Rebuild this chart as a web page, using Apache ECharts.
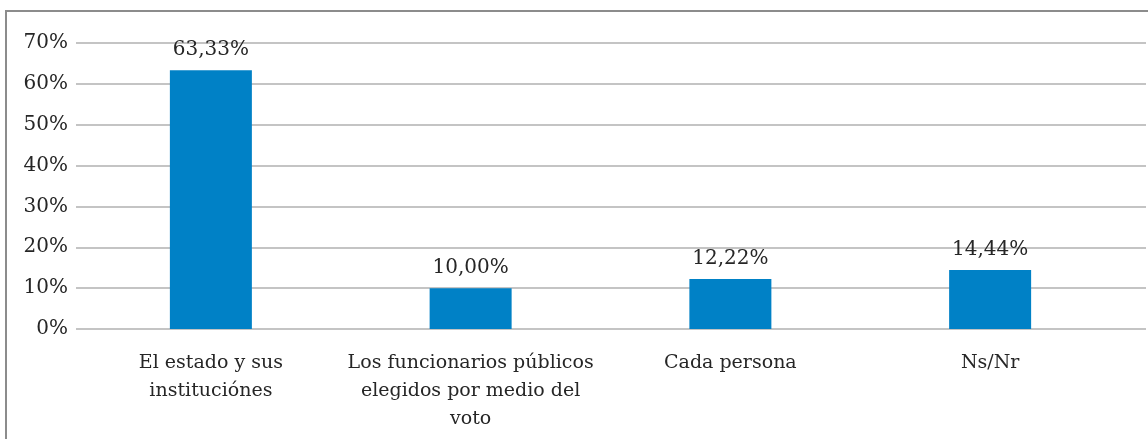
<!DOCTYPE html>
<html>
<head>
<meta charset="utf-8">
<script src="https://cdn.jsdelivr.net/npm/echarts@6/dist/echarts.min.js"></script>
<style>
  html, body { margin: 0; padding: 0; background: #fff; }
  #chart { width: 1148px; height: 439px; }
</style>
</head>
<body>
<div id="chart"></div>
<script>
var categories = [
  "El estado y sus\ninstituciónes",
  "Los funcionarios públicos\nelegidos por medio del\nvoto",
  "Cada persona",
  "Ns/Nr"
];
var values = [63.33, 10.00, 12.22, 14.44];
var yTicks = [0, 10, 20, 30, 40, 50, 60, 70];

var font = "DejaVu Serif";
var chart = echarts.init(document.getElementById("chart"));

var option = {
  animation: false,
  graphic: [
    {
      type: "rect",
      shape: { x: 6, y: 11, width: 1300, height: 600 },
      style: { fill: "none", stroke: "#8c8c8c", lineWidth: 2 }
    }
  ],
  grid: [
    // gridlines + tick labels (wider than the bar area)
    { left: 76, right: 2, top: 43, bottom: 110 },
    // bars
    { left: 81, right: 28, top: 43, bottom: 110 }
  ],
  xAxis: [
    { gridIndex: 0, type: "value", min: 0, max: 1, show: false },
    {
      gridIndex: 1,
      type: "category",
      data: categories,
      axisLine: { show: false },
      axisTick: { show: false },
      axisLabel: {
        margin: 20,
        color: "#262626",
        fontFamily: font,
        fontSize: 19,
        lineHeight: 28,
        interval: 0
      }
    }
  ],
  yAxis: [
    {
      gridIndex: 0,
      type: "value",
      min: yTicks[0],
      max: yTicks[yTicks.length - 1],
      interval: 10,
      axisLine: { show: false },
      axisTick: { show: false },
      axisLabel: {
        margin: 8,
        color: "#262626",
        fontFamily: font,
        fontSize: 20,
        formatter: function (v) { return v + "%"; }
      },
      splitLine: { lineStyle: { color: "#c4c4c4", width: 2 } }
    },
    {
      gridIndex: 1,
      type: "value",
      min: yTicks[0],
      max: yTicks[yTicks.length - 1],
      show: false,
      splitLine: { show: false }
    }
  ],
  series: [
    {
      type: "bar",
      xAxisIndex: 1,
      yAxisIndex: 1,
      data: values,
      barWidth: 82,
      itemStyle: { color: "#0081c6" },
      label: {
        show: true,
        position: "top",
        distance: 10,
        color: "#262626",
        fontFamily: font,
        fontSize: 20,
        formatter: function (p) { return p.value.toFixed(2).replace(".", ",") + "%"; }
      }
    }
  ]
};
chart.setOption(option);
</script>
</body>
</html>
